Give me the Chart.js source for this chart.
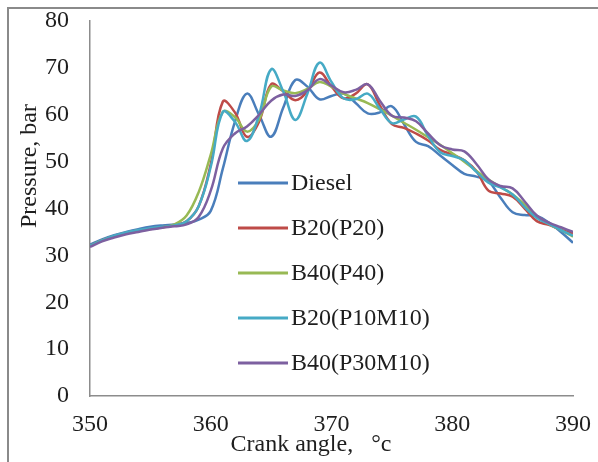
<!DOCTYPE html>
<html>
<head>
<meta charset="utf-8">
<script src="https://cdn.jsdelivr.net/npm/chart.js@4.4.1/dist/chart.umd.min.js"></script>
<style>
  html, body { margin: 0; padding: 0; background: #fff; overflow: hidden; }
  #wrap { position: relative; width: 598px; height: 462px; }
  #frame { position: absolute; left: 7px; top: 7px; right: -10px; bottom: -10px;
           border-top: 2px solid #8a8a8a; border-left: 2px solid #8a8a8a; pointer-events: none; }
</style>
</head>
<body>
<div id="wrap">
  <canvas id="grafico" width="598" height="462"></canvas>
  <div id="frame"></div>
</div>
<script>
// angulo da manivela (graus)
const angles = [350, 351, 352, 353, 354, 355, 356, 357, 358, 359,
                360, 361, 362, 363, 364, 365, 366, 367, 368, 369,
                370, 371, 372, 373, 374, 375, 376, 377, 378, 379,
                380, 381, 382, 383, 384, 385, 386, 387, 388, 389, 390];

const seriesNames = ['Diesel', 'B20(P20)', 'B40(P40)', 'B20(P10M10)', 'B40(P30M10)'];

// pressao (bar)
const diesel = [32.3, 33.4, 34.3, 35.0, 35.6, 36.1, 36.4, 36.6, 36.9, 37.6,
                39.5, 48.5, 58.5, 64.5, 60.0, 55.3, 61.5, 67.4, 66.0, 63.3,
                64.0, 64.5, 62.5, 60.3, 60.5, 61.8, 58.0, 54.2, 53.3, 51.3,
                49.3, 47.4, 46.8, 45.8, 42.3, 39.2, 38.6, 38.4, 37.0, 35.0, 32.7];

const b20p20 = [32.0, 33.2, 34.1, 34.8, 35.2, 35.6, 36.0, 36.4, 37.3, 40.5,
                49.5, 62.8, 60.5, 55.3, 58.5, 66.5, 65.0, 63.1, 65.0, 69.0,
                66.0, 63.5, 64.5, 66.5, 62.0, 58.0, 57.2, 56.0, 54.5, 52.5,
                51.5, 50.3, 48.0, 43.8, 43.2, 42.5, 40.0, 37.3, 36.5, 35.5, 34.7];

const b40p40 = [32.0, 33.2, 34.1, 34.8, 35.3, 35.7, 36.0, 36.6, 38.5, 43.5,
                51.5, 60.6, 59.5, 56.4, 59.0, 66.0, 65.2, 64.6, 65.5, 67.0,
                66.0, 64.5, 63.5, 62.5, 61.2, 59.8, 58.3, 56.8, 55.2, 53.6,
                51.8, 50.0, 48.0, 46.2, 44.6, 43.0, 40.8, 38.4, 36.7, 35.4, 34.0];

const b20p10m10 = [32.0, 33.2, 34.2, 34.9, 35.4, 35.8, 36.1, 36.4, 37.3, 40.5,
                   48.9, 60.6, 58.5, 54.4, 60.0, 69.7, 65.0, 58.9, 64.5, 71.1,
                   67.0, 63.5, 63.3, 64.5, 61.3, 58.2, 59.0, 59.6, 55.5, 52.0,
                   51.2, 50.3, 47.8, 45.5, 44.5, 43.0, 40.3, 38.0, 36.7, 35.4, 34.2];

const b40p30m10 = [31.8, 33.0, 33.8, 34.5, 35.0, 35.5, 35.9, 36.2, 36.6, 38.2,
                   43.8, 52.8, 56.0, 57.5, 60.0, 63.0, 64.3, 64.0, 65.2, 67.6,
                   66.2, 64.8, 65.3, 66.5, 63.0, 59.8, 59.4, 58.6, 56.0, 53.5,
                   52.6, 52.2, 49.5, 46.2, 44.8, 44.3, 41.5, 38.5, 37.0, 36.0, 35.0];

const xTicks = [350, 360, 370, 380, 390];
const yTicks = [0, 10, 20, 30, 40, 50, 60, 70, 80];

const cores = ['#4a7ebb', '#be4b48', '#98b954', '#46aac5', '#7d60a0'];
const fonte = '"Liberation Serif", "Times New Roman", serif';
const corTexto = '#1e1e1e';

const allSeries = [diesel, b20p20, b40p40, b20p10m10, b40p30m10];

// legenda dentro da area do grafico + titulos dos eixos
const extrasPlugin = {
    id: 'extras',
    afterDatasetsDraw(chart) {
        const {ctx, chartArea} = chart;
        ctx.save();
        ctx.font = '24px ' + fonte;
        ctx.textBaseline = 'middle';
        ctx.textAlign = 'left';
        chart.data.datasets.forEach((ds, i) => {
            const x = chartArea.left + 148;
            const y = chartArea.top + 162 + i * 45;
            ctx.strokeStyle = ds.borderColor;
            ctx.lineWidth = 3;
            ctx.beginPath();
            ctx.moveTo(x, y);
            ctx.lineTo(x + 50, y);
            ctx.stroke();
            ctx.fillStyle = corTexto;
            ctx.fillText(ds.label, x + 53, y + 1);
        });

        // titulo eixo x
        ctx.textAlign = 'center';
        ctx.fillText('Crank angle,   \u00b0c', 311, 445);

        // titulo eixo y
        ctx.translate(30, 166);
        ctx.rotate(-Math.PI / 2);
        ctx.fillText('Pressure, bar', 0, 0);
        ctx.restore();
    }
};

const ctx = document.getElementById('grafico').getContext('2d');
new Chart(ctx, {
    type: 'line',
    data: {
        datasets: allSeries.map((vals, i) => ({
            label: seriesNames[i],
            data: angles.map((a, j) => ({x: a, y: vals[j]})),
            borderColor: cores[i],
            backgroundColor: cores[i],
            borderWidth: 2.5,
            pointRadius: 0,
            tension: 0.4,
            fill: false,
            order: allSeries.length - i
        }))
    },
    options: {
        responsive: false,
        animation: false,
        layout: {
            padding: {left: 0, top: 21, right: 25, bottom: 0}
        },
        scales: {
            x: {
                type: 'linear',
                min: 350,
                max: 390,
                afterBuildTicks: (axis) => { axis.ticks = xTicks.map(v => ({value: v})); },
                afterFit: (axis) => {
                    axis.height = 66;
                    axis.paddingLeft = 0;
                    axis.paddingRight = 0;
                },
                grid: {display: false, drawTicks: false},
                border: {display: true, color: '#8c8c8c', width: 1.5},
                ticks: {
                    color: corTexto,
                    padding: 14,
                    maxRotation: 0,
                    font: {family: fonte, size: 24}
                }
            },
            y: {
                min: 0,
                max: 80,
                afterBuildTicks: (axis) => { axis.ticks = yTicks.map(v => ({value: v})); },
                afterFit: (axis) => {
                    axis.width = 90;
                    axis.paddingTop = 0;
                    axis.paddingBottom = 0;
                },
                grid: {display: false, drawTicks: false},
                border: {display: true, color: '#8c8c8c', width: 1.5},
                ticks: {
                    color: corTexto,
                    padding: 21,
                    font: {family: fonte, size: 24}
                }
            }
        },
        plugins: {
            legend: {display: false},
            tooltip: {enabled: false}
        }
    },
    plugins: [extrasPlugin]
});
</script>
</body>
</html>
